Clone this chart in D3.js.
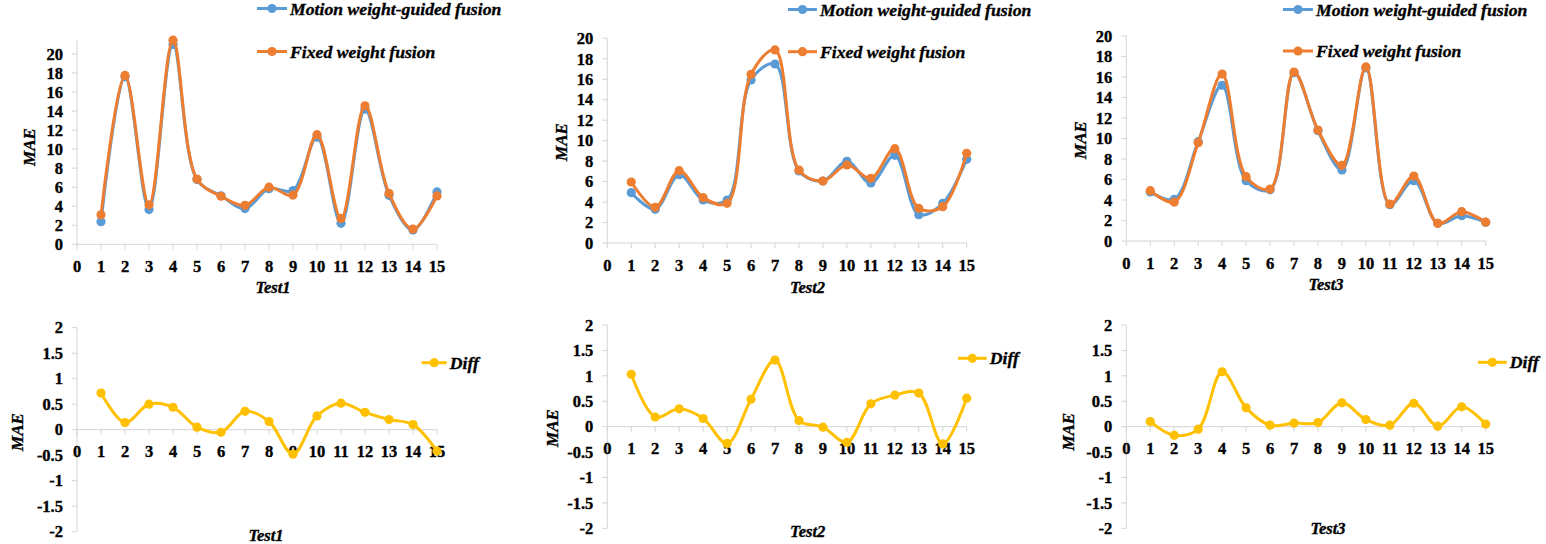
<!DOCTYPE html>
<html>
<head>
<meta charset="utf-8">
<script src="https://cdn.jsdelivr.net/npm/d3@7"></script>
<style>
html,body{margin:0;padding:0;background:#fff;}
svg{display:block;}
svg text{stroke:#000;stroke-width:0.35px;paint-order:stroke;}
</style>
</head>
<body>
<svg id="chart" width="1546" height="544" font-weight="bold"></svg>
<script>
// ---------- data ----------
const categories = [1,2,3,4,5,6,7,8,9,10,11,12,13,14,15];
const xTickLabels = [0,1,2,3,4,5,6,7,8,9,10,11,12,13,14,15];
const maeTicks = [0,2,4,6,8,10,12,14,16,18,20];
const diffTicks = [-2,-1.5,-1,-0.5,0,0.5,1,1.5,2];
const seriesNames = ["Motion weight-guided fusion","Fixed weight fusion","Diff"];
const testNames = ["Test1","Test2","Test3"];

const motion1 = [2.38,17.6,3.65,21.0,6.8,5.1,3.75,5.85,5.65,11.25,2.2,14.2,5.15,1.5,5.5];
const fixed1  = [3.1,17.75,4.15,21.45,6.85,5.05,4.1,6.0,5.17,11.52,2.72,14.55,5.35,1.6,5.08];
const diff1   = [0.72,0.14,0.5,0.44,0.05,-0.05,0.36,0.16,-0.48,0.27,0.52,0.34,0.2,0.1,-0.42];

const motion2 = [4.92,3.29,6.68,4.2,4.2,15.93,17.49,7.04,6.06,7.98,5.86,8.57,2.77,3.88,8.18];
const fixed2  = [5.96,3.49,7.07,4.43,3.88,16.48,18.86,7.13,6.06,7.62,6.32,9.22,3.39,3.55,8.76];
const diff2   = [1.03,0.19,0.35,0.16,-0.33,0.54,1.31,0.12,-0.01,-0.31,0.45,0.62,0.66,-0.34,0.56];

const motion3 = [4.78,4.07,9.69,15.19,5.89,5.0,16.42,10.76,6.93,16.88,3.54,5.89,1.72,2.47,1.82];
const fixed3  = [4.91,3.8,9.59,16.29,6.28,5.07,16.49,10.83,7.38,16.98,3.6,6.34,1.72,2.86,1.84];
const diff3   = [0.1,-0.17,-0.05,1.08,0.37,0.03,0.07,0.08,0.47,0.14,0.03,0.46,0.01,0.39,0.05];

// ---------- font detection (serif, Times-like) ----------
function pickFont(cands){
  const c = document.createElement("canvas").getContext("2d");
  const s = "Motion weight-guided fusion 0123456789 MAE";
  const w = f => { c.font = "bold 40px " + f; return c.measureText(s).width; };
  for (const f of cands){
    const q = "'" + f + "'";
    if (w(q + ", monospace") !== w("monospace") || w(q + ", sans-serif") !== w("sans-serif")) return q;
  }
  return "serif";
}
const FONT = pickFont(["Liberation Serif","Times New Roman","Tinos","DejaVu Serif","Noto Serif"]) + ", serif";

// ---------- style / layout ----------
const COLORS = {motion:"#5B9BD5", fixed:"#ED7D31", diff:"#FFC000"};
const AXIS = "#d4d4d4";
const svg = d3.select("#chart").attr("font-family", FONT);

const topPanels = [
  {name:testNames[0], motion:motion1, fixed:fixed1, x0:77, x1:437, y0:244.3, y1:39.7, ymax:21.5,
   title:[273,287], mae:[29.5,147], leg:[257,287,8.5, 51.5]},
  {name:testNames[1], motion:motion2, fixed:fixed2, x0:607.3, x1:966.7, y0:243, y1:38.3, ymax:20,
   title:[807.5,287], mae:[561.5,142], leg:[788,817,9.5,51.7]},
  {name:testNames[2], motion:motion3, fixed:fixed3, x0:1126.3, x1:1485.7, y0:241, y1:36, ymax:20,
   title:[1326,284], mae:[1080,140], leg:[1283,1313,9.5,51]}
];
const botPanels = [
  {name:testNames[0], diff:diff1, x0:77, x1:437, yTop:327.7, yBot:531.7, title:[266,535], mae:[17.5,432], leg:[421.7,446.7,362.7]},
  {name:testNames[1], diff:diff2, x0:607.3, x1:966.7, yTop:325, yBot:528.3, title:[807.7,531.7], mae:[551.7,428], leg:[958,986.7,358.3]},
  {name:testNames[2], diff:diff3, x0:1126.3, x1:1485.7, yTop:325, yBot:528.3, title:[1328,528], mae:[1068,431.7], leg:[1478,1506.7,362.3]}
];

const FS = 16.5;      // tick labels, axis titles
const FS_MAE = 17;
const FS_LEG = 17.7;
const curve = d3.curveCatmullRom.alpha(0.5);

function drawAxes(g, x, y, yTicks, yDomain, xAxisY){
  g.append("line").attr("x1",x(0)).attr("x2",x(0))
    .attr("y1",y(yDomain[1])).attr("y2",y(yDomain[0]))
    .attr("stroke",AXIS).attr("stroke-width",1);
  yTicks.forEach(t=>{
    g.append("line").attr("x1",x(0)-5).attr("x2",x(0)).attr("y1",y(t)).attr("y2",y(t))
      .attr("stroke",AXIS).attr("stroke-width",1);
    g.append("text").attr("x",x(0)-14).attr("y",y(t)).attr("dy","0.35em")
      .attr("text-anchor","end").attr("font-size",FS).text(t);
  });
  g.append("line").attr("x1",x(0)).attr("x2",x(15))
    .attr("y1",xAxisY).attr("y2",xAxisY).attr("stroke",AXIS).attr("stroke-width",1);
  xTickLabels.forEach(t=>{
    g.append("line").attr("x1",x(t)).attr("x2",x(t)).attr("y1",xAxisY).attr("y2",xAxisY+5)
      .attr("stroke",AXIS).attr("stroke-width",1);
  });
}

function drawSeries(g, x, y, vals, color){
  const pts = categories.map((c,i)=>[c, vals[i]]);
  const line = d3.line().x(d=>x(d[0])).y(d=>y(d[1])).curve(curve);
  g.append("path").attr("d",line(pts)).attr("fill","none")
    .attr("stroke",color).attr("stroke-width",3).attr("stroke-linejoin","round");
  g.selectAll(null).data(pts).enter().append("circle")
    .attr("cx",d=>x(d[0])).attr("cy",d=>y(d[1])).attr("r",4.6).attr("fill",color);
}

function legendItem(g, xa, xb, yy, color, label){
  g.append("line").attr("x1",xa).attr("x2",xb).attr("y1",yy).attr("y2",yy)
    .attr("stroke",color).attr("stroke-width",3);
  g.append("circle").attr("cx",(xa+xb)/2).attr("cy",yy).attr("r",4.6).attr("fill",color);
  g.append("text").attr("x",xb+3).attr("y",yy).attr("dy","0.35em")
    .attr("font-size",FS_LEG).attr("font-style","italic").text(label);
}

function tickLabelsX(g, x, yy){
  xTickLabels.forEach(t=>{
    g.append("text").attr("x",x(t)).attr("y",yy).attr("dy","0.35em")
      .attr("text-anchor","middle").attr("font-size",FS).text(t);
  });
}

function titles(g, p){
  g.append("text").attr("x",p.title[0]).attr("y",p.title[1]).attr("dy","0.35em")
    .attr("text-anchor","middle").attr("font-size",FS).attr("font-style","italic").text(p.name);
  g.append("text").attr("transform",`translate(${p.mae[0]},${p.mae[1]}) rotate(-90)`).attr("dy","0.35em")
    .attr("text-anchor","middle").attr("font-size",FS_MAE).attr("font-style","italic").text("MAE");
}

topPanels.forEach(p=>{
  const g = svg.append("g");
  const x = d3.scaleLinear().domain([0,15]).range([p.x0,p.x1]);
  const y = d3.scaleLinear().domain([0,p.ymax]).range([p.y0,p.y1]);
  drawAxes(g, x, y, maeTicks, [0,p.ymax], y(0));
  tickLabelsX(g, x, y(0)+22);
  drawSeries(g, x, y, p.motion, COLORS.motion);
  drawSeries(g, x, y, p.fixed, COLORS.fixed);
  titles(g, p);
  legendItem(g, p.leg[0], p.leg[1], p.leg[2], COLORS.motion, seriesNames[0]);
  legendItem(g, p.leg[0], p.leg[1], p.leg[3], COLORS.fixed, seriesNames[1]);
});

botPanels.forEach(p=>{
  const g = svg.append("g");
  const x = d3.scaleLinear().domain([0,15]).range([p.x0,p.x1]);
  const y = d3.scaleLinear().domain([-2,2]).range([p.yBot,p.yTop]);
  drawAxes(g, x, y, diffTicks, [-2,2], y(0));
  tickLabelsX(g, x, y(0)+22);
  drawSeries(g, x, y, p.diff, COLORS.diff);
  titles(g, p);
  legendItem(g, p.leg[0], p.leg[1], p.leg[2], COLORS.diff, seriesNames[2]);
});
</script>
</body>
</html>
